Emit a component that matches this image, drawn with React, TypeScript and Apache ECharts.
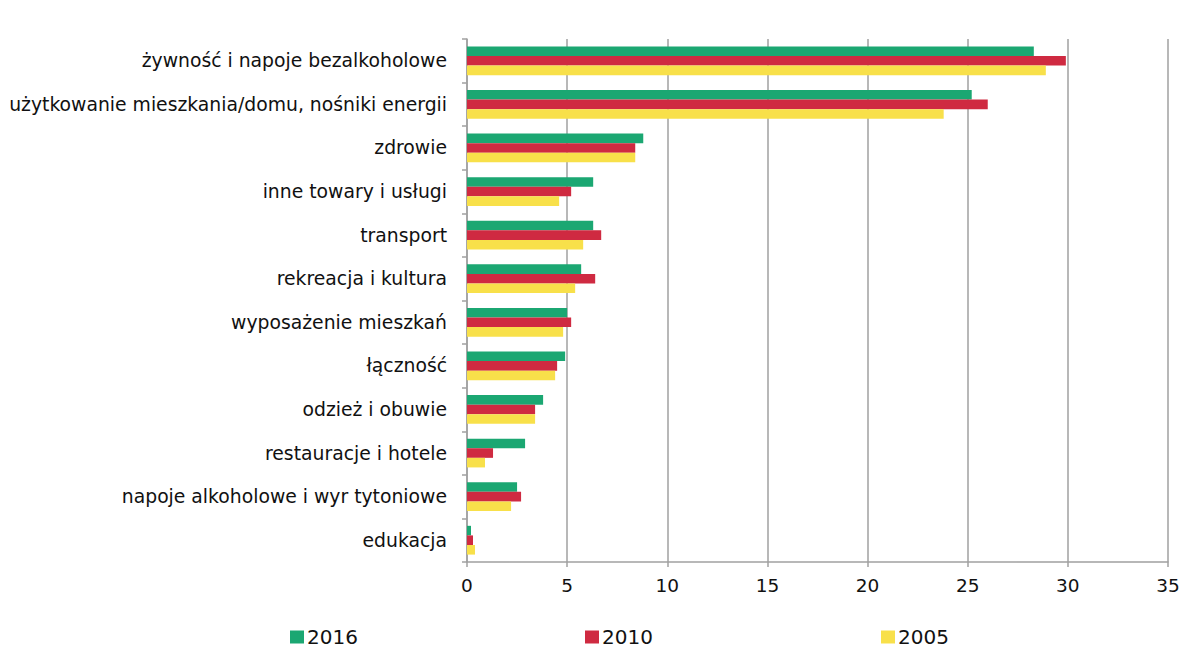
import React, { useEffect, useRef } from "react";
import * as echarts from "echarts";

const categories = [
  "żywność i napoje bezalkoholowe",
  "użytkowanie mieszkania/domu, nośniki energii",
  "zdrowie",
  "inne towary i usługi",
  "transport",
  "rekreacja i kultura",
  "wyposażenie mieszkań",
  "łączność",
  "odzież i obuwie",
  "restauracje i hotele",
  "napoje alkoholowe i wyr tytoniowe",
  "edukacja",
];

const values2016 = [28.3, 25.2, 8.8, 6.3, 6.3, 5.7, 5.0, 4.9, 3.8, 2.9, 2.5, 0.2];
const values2010 = [29.9, 26.0, 8.4, 5.2, 6.7, 6.4, 5.2, 4.5, 3.4, 1.3, 2.7, 0.3];
const values2005 = [28.9, 23.8, 8.4, 4.6, 5.8, 5.4, 4.8, 4.4, 3.4, 0.9, 2.2, 0.4];

const seriesNames = ["2016", "2010", "2005"];
const colors = ["#1ba772", "#cf2a41", "#f8e04a"];
const xTicks = { min: 0, max: 35, interval: 5 };

const FONT = "'DejaVu Sans', Verdana, sans-serif";
const GRAY = "#a0a0a0";

export default function App() {
  const ref = useRef<HTMLDivElement>(null);
  useEffect(() => {
    if (!ref.current) return;
    const chart = echarts.init(ref.current, null, { renderer: "svg" });
    const data = [values2016, values2010, values2005];
    const legendLefts = [285, 580, 876];
    chart.setOption({
      animation: false,
      textStyle: { fontFamily: FONT },
      grid: { left: 467, right: 21, top: 39, bottom: 109, containLabel: false },
      legend: seriesNames.map((n, i) => ({
        data: [n],
        left: legendLefts[i],
        top: 622,
        icon: "rect",
        itemWidth: 14,
        itemHeight: 13,
        itemGap: 6,
        textStyle: { fontSize: 20, color: "#111", fontFamily: FONT, padding: [0, 0, 0, -2] },
      })),
      xAxis: {
        type: "value",
        min: xTicks.min,
        max: xTicks.max,
        interval: xTicks.interval,
        axisLine: { show: true, lineStyle: { color: GRAY, width: 1.5 } },
        axisTick: { show: true, length: 5, lineStyle: { color: GRAY, width: 1.5 } },
        axisLabel: { fontSize: 18.5, color: "#111", margin: 14, fontFamily: FONT },
        splitLine: { show: true, lineStyle: { color: GRAY, width: 1.5 } },
      },
      yAxis: {
        type: "category",
        data: categories,
        inverse: true,
        axisLine: { show: true, lineStyle: { color: GRAY, width: 1.5 } },
        axisTick: { show: true, length: 5, lineStyle: { color: GRAY, width: 1.5 } },
        axisLabel: { fontSize: 18.8, color: "#111", margin: 20, fontFamily: FONT },
        splitLine: { show: false },
      },
      series: seriesNames.map((n, i) => ({
        name: n,
        type: "bar",
        data: data[i],
        barGap: "0%",
        barCategoryGap: "34%",
        itemStyle: { color: colors[i] },
      })),
    });
    return () => chart.dispose();
  }, []);
  return (
    <div
      ref={ref}
      style={{ position: "fixed", left: 0, top: 0, width: 1189, height: 671, background: "#fff" }}
    />
  );
}
